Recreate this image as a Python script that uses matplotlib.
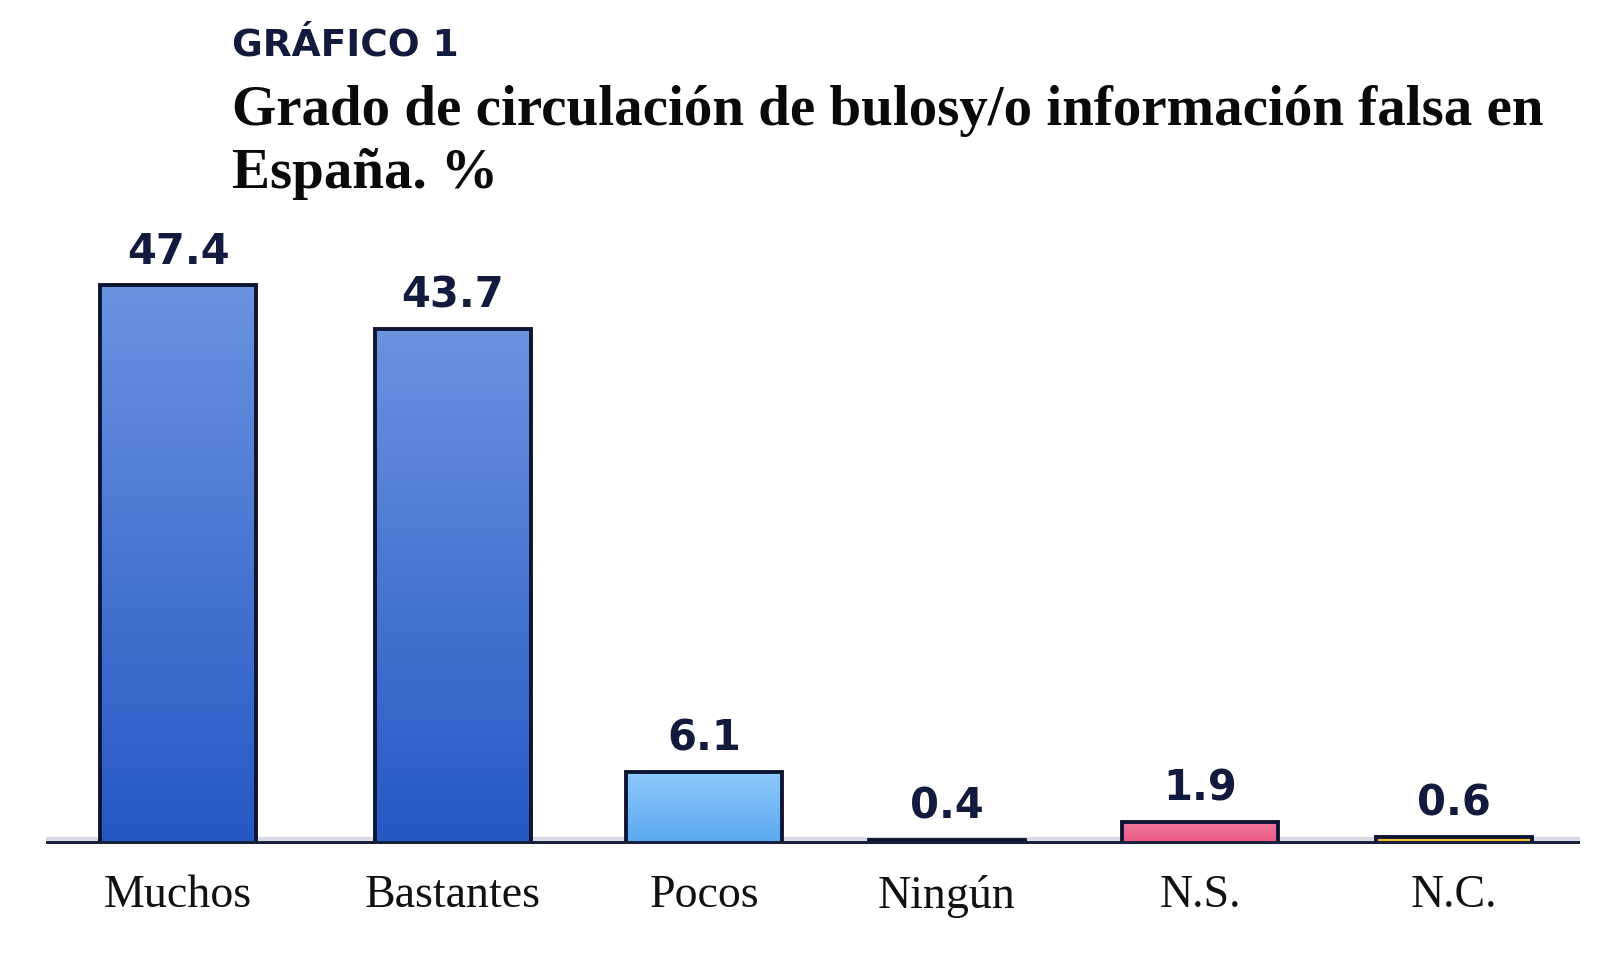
import numpy as np
import matplotlib.pyplot as plt
from matplotlib.colors import LinearSegmentedColormap

categorias = ['Muchos', 'Bastantes', 'Pocos', 'Ningún', 'N.S.', 'N.C.']
valores = [47.4, 43.7, 6.1, 0.4, 1.9, 0.6]
etiquetas = ['47.4', '43.7', '6.1', '0.4', '1.9', '0.6']

# colores (arriba, abajo) de cada barra
colores = [('#6a93e0', '#2658c4'), ('#6a93e0', '#2658c4'), ('#8cc8fb', '#5aa8f0'),
           ('#b07ae8', '#8a55d8'), ('#f47a9e', '#e85580'), ('#f8cc40', '#eeb020')]

# posiciones horizontales de las barras (no del todo equidistantes en el original)
posiciones = [0, 1.075, 2.06, 3.01, 4.0, 4.995]

navy = '#121a3d'
edge = '#0e1533'

fig = plt.figure(figsize=(16.12, 9.75), dpi=100)
ax = fig.add_axes([0.0287, 0.134, 0.9513, 0.663])
ymax = 54.8

x = np.array(posiciones)
width = 0.61
bars = ax.bar(x, valores, width=width, color='none', edgecolor=edge, linewidth=2.8, zorder=3)
bars_fill = ax.bar(x, valores, width=width, color='none', edgecolor='none', zorder=2)

grad = np.linspace(0, 1, 256).reshape(-1, 1)
for b, (ctop, cbot) in zip(bars_fill, colores):
    cmap = LinearSegmentedColormap.from_list('g', [cbot, ctop])
    x0, y0 = b.get_x(), b.get_y()
    im = ax.imshow(grad, cmap=cmap, origin='lower', aspect='auto',
                   extent=(x0, x0 + b.get_width(), y0, y0 + b.get_height()), zorder=2)
    im.set_clip_path(b)

ax.set_xlim(-0.516, 5.487)
ax.set_ylim(0, ymax)

for xi, v, t in zip(x, valores, etiquetas):
    ax.annotate(t, (xi, v), xytext=(0, 9), textcoords='offset points', ha='center', va='bottom',
                fontsize=30, fontweight='bold', color=navy, family='DejaVu Sans')

# línea base con sombra suave
ax.axhline(0, color='#d8dbe2', linewidth=11, zorder=1)
ax.axhline(0, color='#16203a', linewidth=5, zorder=4)

ax.set_xticks(x)
ax.set_xticklabels(categorias, fontsize=33, family='Liberation Serif', color='#111111')
ax.tick_params(axis='x', length=0, pad=22)
ax.set_yticks([])
for s in ax.spines.values():
    s.set_visible(False)

fig.text(0.1437, 0.953, 'GRÁFICO 1', fontsize=27, fontweight='bold', color=navy,
         va='center', ha='left', family='DejaVu Sans')
fig.text(0.1437, 0.872, 'Grado de circulación de bulosy/o información falsa en',
         fontsize=41, fontweight='bold', color='#0a0a0a', va='baseline', ha='left',
         family='Liberation Serif')
fig.text(0.1437, 0.807, 'España. %', fontsize=41, fontweight='bold', color='#0a0a0a',
         va='baseline', ha='left', family='Liberation Serif')

fig.savefig('out.png', dpi=100, facecolor='white')
